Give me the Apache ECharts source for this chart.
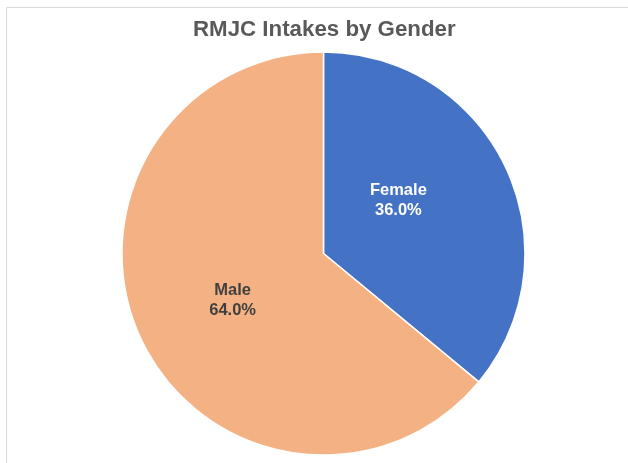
<!DOCTYPE html>
<html>
<head>
<meta charset="utf-8">
<script src="https://cdn.jsdelivr.net/npm/echarts@6/dist/echarts.min.js"></script>
<style>
  html, body { margin: 0; padding: 0; background: #fff; }
  #chart { width: 628px; height: 463px; }
</style>
</head>
<body>
<div id="chart"></div>
<script>
var categories = ['Female', 'Male'];
var shares = [36.0, 64.0];
var colors = ['#4472C4', '#F4B183'];
var labelColors = ['#ffffff', '#404040'];

var myChart = echarts.init(document.getElementById('chart'));

var pieData = [];
for (var i = 0; i < categories.length; i++) {
    pieData.push({
        name: categories[i],
        value: shares[i],
        itemStyle: { color: colors[i] },
        label: { color: labelColors[i], offset: i === 0 ? [-19, -9] : [3, 3] }
    });
}

var option = {
    animation: false,
    title: {
        text: 'RMJC Intakes by Gender',
        left: 188,
        top: 14,
        textStyle: {
            fontFamily: 'Liberation Sans, Arial, sans-serif',
            fontSize: 22.3,
            fontWeight: 'bold',
            color: '#595959'
        }
    },
    graphic: [
        {
            type: 'polyline',
            shape: { points: [[6.5, 470], [6.5, 7.5], [640, 7.5]] },
            style: { stroke: '#d9d9d9', lineWidth: 1, fill: null },
            silent: true
        }
    ],
    series: [
        {
            type: 'pie',
            radius: 201.5,
            center: [323.5, 253.5],
            startAngle: 90,
            clockwise: true,
            itemStyle: { borderColor: '#ffffff', borderWidth: 1.5 },
            label: {
                position: 'inside',
                formatter: function (p) { return p.name + '\n' + p.value.toFixed(1) + '%'; },
                fontFamily: 'Liberation Sans, Arial, sans-serif',
                fontSize: 16.5,
                fontWeight: 'bold',
                lineHeight: 20
            },
            labelLine: { show: false },
            emphasis: { disabled: true },
            data: pieData
        }
    ]
};

myChart.setOption(option);
</script>
</body>
</html>
